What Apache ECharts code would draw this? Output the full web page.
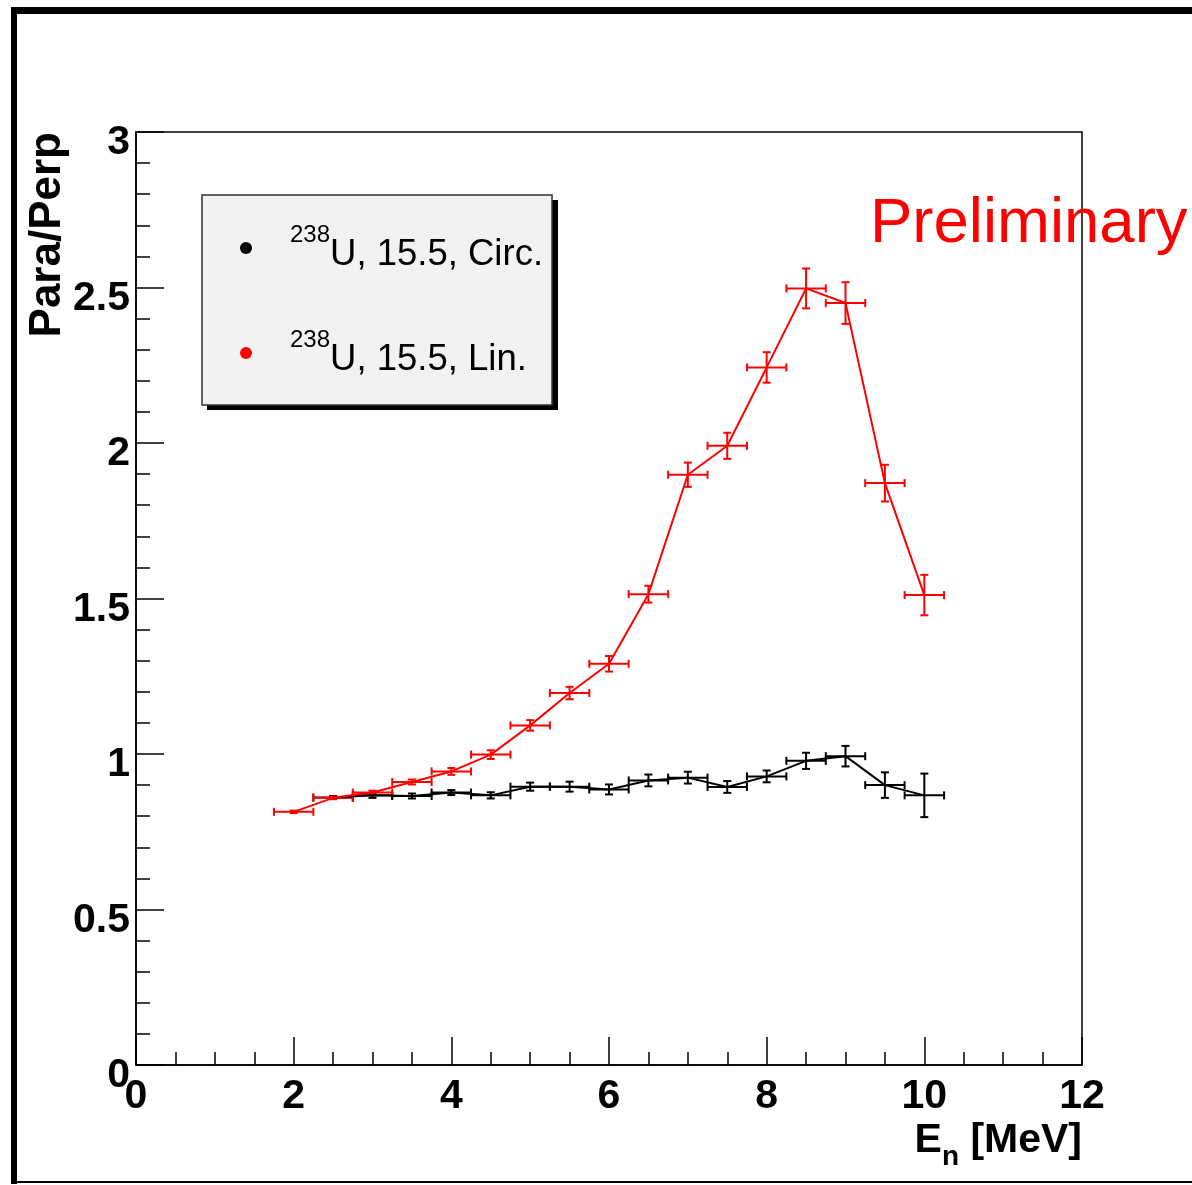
<!DOCTYPE html>
<html>
<head>
<meta charset="utf-8">
<script src="https://cdn.jsdelivr.net/npm/echarts@6/dist/echarts.min.js"></script>
<style>
  html, body { margin: 0; padding: 0; background: #fff; }
  #chart { width: 1192px; height: 1185px; }
</style>
</head>
<body>
<div id="chart"></div>
<script>
// neutron energy bins (MeV)
const circEnergy = [2.5, 3, 3.5, 4, 4.5, 5, 5.5, 6, 6.5, 7, 7.5, 8, 8.5, 9, 9.5, 10]
const circRatio = [0.860, 0.867, 0.865, 0.876, 0.867, 0.895, 0.895, 0.886, 0.915, 0.924, 0.894, 0.928, 0.978, 0.993, 0.900, 0.867]
const circErr = [0.005, 0.008, 0.008, 0.008, 0.010, 0.013, 0.016, 0.016, 0.019, 0.019, 0.019, 0.019, 0.026, 0.033, 0.041, 0.070]

const linEnergy = [2, 2.5, 3, 3.5, 4, 4.5, 5, 5.5, 6, 6.5, 7, 7.5, 8, 8.5, 9, 9.5, 10]
const linRatio = [0.814, 0.859, 0.876, 0.910, 0.944, 0.998, 1.092, 1.196, 1.290, 1.514, 1.898, 1.991, 2.243, 2.497, 2.450, 1.871, 1.511]
const linErr = [0.004, 0.004, 0.006, 0.008, 0.011, 0.014, 0.017, 0.020, 0.025, 0.027, 0.039, 0.042, 0.049, 0.064, 0.067, 0.059, 0.065]

// half bin width, drawn as horizontal error
const binHalf = 0.25

const seriesNames = ['circ', 'lin']
const legendIsotope = '238'
const legendLabels = ['U, 15.5, Circ.', 'U, 15.5, Lin.']
const xTicks = { min: 0, max: 12, interval: 2 }
const yTicks = { min: 0, max: 3, interval: 0.5 }

const font = 'Liberation Sans'
const red = '#ff0000'
const black = '#000000'

function errorBars(name, xs, ys, es, color) {
  return {
    name: name,
    type: 'custom',
    silent: true,
    data: xs.map((x, i) => [x, ys[i], es[i]]),
    renderItem: function (params, api) {
      const x = api.value(0)
      const y = api.value(1)
      const ey = api.value(2)
      const l = api.coord([x - binHalf, y])
      const r = api.coord([x + binHalf, y])
      const t = api.coord([x, y + ey])
      const b = api.coord([x, y - ey])
      const c = 4
      const style = { stroke: color, lineWidth: 2 }
      const ln = (x1, y1, x2, y2) => ({ type: 'line', shape: { x1, y1, x2, y2 }, style })
      return {
        type: 'group',
        children: [
          ln(l[0], l[1], r[0], r[1]),
          ln(t[0], t[1], b[0], b[1]),
          ln(l[0], l[1] - c, l[0], l[1] + c),
          ln(r[0], r[1] - c, r[0], r[1] + c),
          ln(t[0] - c, t[1], t[0] + c, t[1]),
          ln(b[0] - c, b[1], b[0] + c, b[1])
        ]
      }
    }
  }
}

function lineSeries(name, xs, ys, color) {
  return {
    name: name,
    type: 'line',
    symbol: 'none',
    data: xs.map((x, i) => [x, ys[i]]),
    lineStyle: { color: color, width: 2 },
    itemStyle: { color: color }
  }
}

const chart = echarts.init(document.getElementById('chart'))
const options = {
  animation: false,
  backgroundColor: '#ffffff',
  textStyle: { fontFamily: font },
  grid: {
    left: 136,
    right: 110,
    top: 132,
    bottom: 120,
    show: true,
    borderColor: black,
    borderWidth: 1.5,
    backgroundColor: 'transparent'
  },
  legend: {
    data: seriesNames,
    orient: 'vertical',
    left: 202,
    top: 195,
    padding: [28, 9, 27, 38],
    itemWidth: 12,
    itemHeight: 12,
    itemGap: 55,
    icon: 'circle',
    z: 5,
    backgroundColor: '#f2f2f2',
    borderColor: '#333',
    borderWidth: 1.5,
    borderRadius: 0,
    formatter: function (name) {
      const i = seriesNames.indexOf(name)
      return '{sup|' + legendIsotope + '}{u|' + legendLabels[i] + '}'
    },
    textStyle: {
      color: black,
      fontFamily: font,
      rich: {
        sup: { fontSize: 24, verticalAlign: 'bottom', padding: [0, 0, 26, 33], fontFamily: font, color: black },
        u: { fontSize: 36.5, verticalAlign: 'bottom', fontFamily: font, color: black }
      }
    }
  },
  xAxis: {
    type: 'value',
    min: xTicks.min,
    max: xTicks.max,
    interval: xTicks.interval,
    name: '{b|E}{sub|n}{b| [MeV]}',
    nameLocation: 'end',
    nameGap: 0,
    nameTextStyle: {
      align: 'right',
      verticalAlign: 'top',
      padding: [55, 0, 0, 0],
      rich: {
        b: { fontSize: 41, fontWeight: 'bold', lineHeight: 41, verticalAlign: 'top', fontFamily: font, color: black },
        sub: { fontSize: 28, fontWeight: 'bold', lineHeight: 28, verticalAlign: 'top', padding: [23, 0, 0, 0], fontFamily: font, color: black }
      }
    },
    axisLine: { show: true, lineStyle: { color: black, width: 1.5 } },
    axisTick: { show: true, inside: true, length: 28, lineStyle: { color: black, width: 1.5 } },
    minorTick: { show: true, splitNumber: 4, length: 13, lineStyle: { color: black, width: 1.5 } },
    splitLine: { show: false },
    axisLabel: {
      show: true,
      margin: 11,
      fontSize: 41,
      fontWeight: 'bold',
      color: black,
      fontFamily: font,
      showMinLabel: true,
      showMaxLabel: true
    }
  },
  yAxis: {
    type: 'value',
    min: yTicks.min,
    max: yTicks.max,
    interval: yTicks.interval,
    name: 'Para/Perp',
    nameLocation: 'end',
    nameGap: 0,
    nameRotate: 90,
    nameTextStyle: {
      align: 'right',
      verticalAlign: 'bottom',
      padding: [0, 0, 66, 0],
      fontSize: 44,
      fontWeight: 'bold',
      color: black,
      fontFamily: font
    },
    axisLine: { show: true, lineStyle: { color: black, width: 1.5 } },
    axisTick: { show: true, inside: true, length: 28, lineStyle: { color: black, width: 1.5 } },
    minorTick: { show: true, splitNumber: 5, length: 14, lineStyle: { color: black, width: 1.5 } },
    splitLine: { show: false },
    axisLabel: {
      show: true,
      margin: 6,
      fontSize: 41,
      fontWeight: 'bold',
      color: black,
      fontFamily: font,
      verticalAlign: 'top',
      lineHeight: 22,
      showMinLabel: true,
      showMaxLabel: true
    }
  },
  graphic: [
    // outer canvas frame
    { type: 'rect', shape: { x: 11, y: 7, width: 6, height: 1177 }, style: { fill: black } },
    { type: 'rect', shape: { x: 11, y: 7, width: 1181, height: 7 }, style: { fill: black } },
    { type: 'rect', shape: { x: 11, y: 1181, width: 1181, height: 2 }, style: { fill: black } },
    // legend drop shadow
    { type: 'rect', z: 3, shape: { x: 207, y: 200, width: 351, height: 210 }, style: { fill: black } },
    {
      type: 'text',
      x: 870,
      y: 224,
      style: {
        text: 'Preliminary',
        fill: red,
        fontSize: 63.5,
        fontFamily: font,
        verticalAlign: 'middle'
      }
    }
  ],
  series: [
    lineSeries('circ', circEnergy, circRatio, black),
    errorBars('circ', circEnergy, circRatio, circErr, black),
    lineSeries('lin', linEnergy, linRatio, red),
    errorBars('lin', linEnergy, linRatio, linErr, red)
  ]
}
chart.setOption(options)
</script>
</body>
</html>
